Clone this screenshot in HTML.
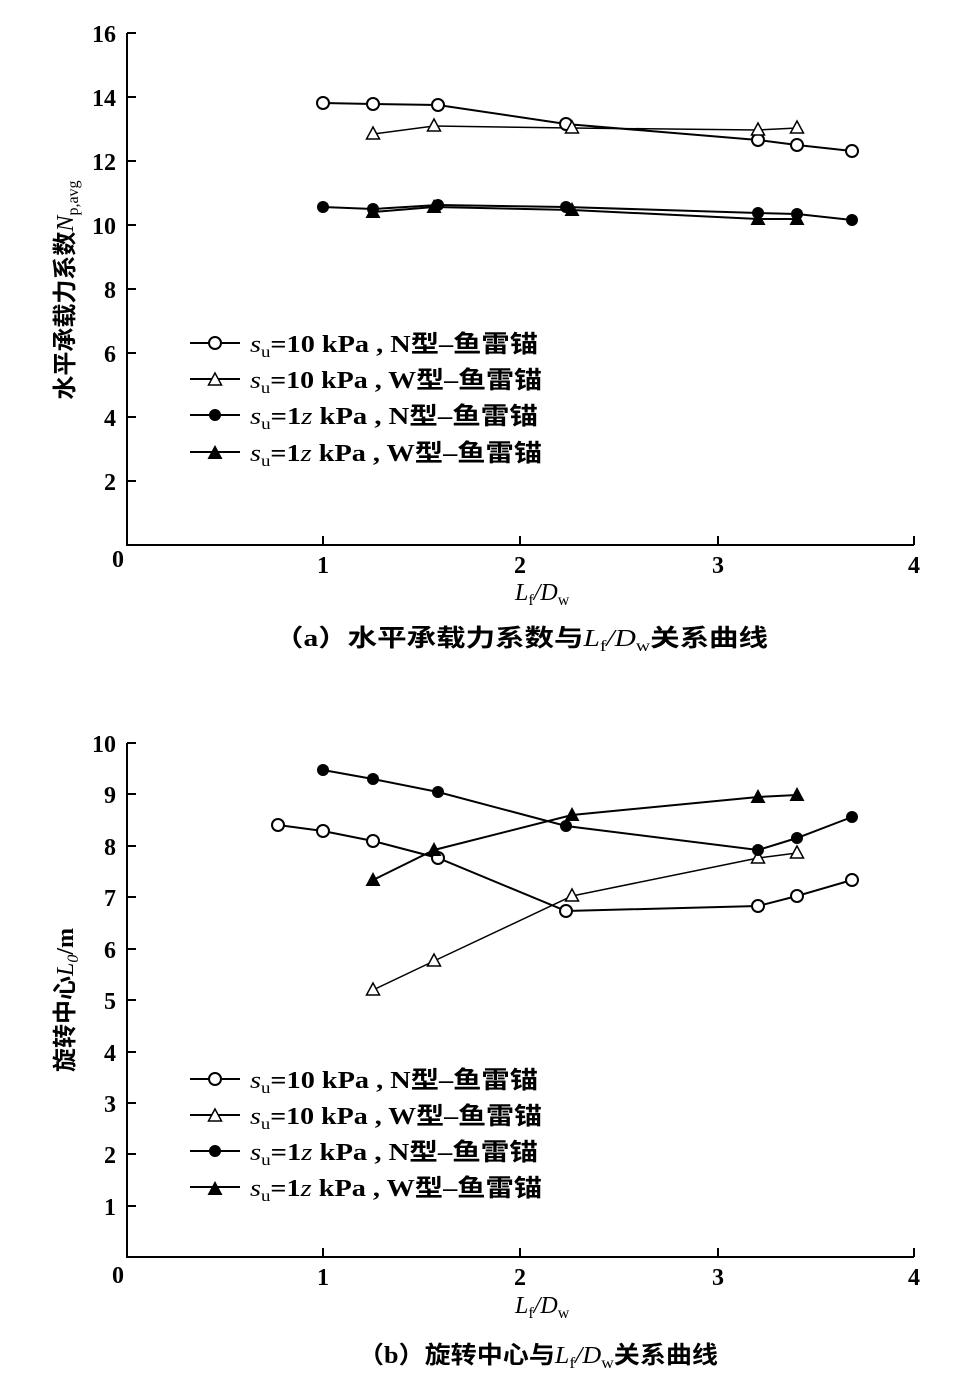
<!DOCTYPE html>
<html><head><meta charset="utf-8"><style>
body{margin:0;background:#fff;}
text{font-family:"Liberation Serif","Noto Sans CJK SC",serif;fill:#000;font-weight:bold;}
.n{font-weight:normal;}
.i{font-style:italic;font-weight:normal;}
</style></head><body>
<svg width="963" height="1394" viewBox="0 0 963 1394" xmlns="http://www.w3.org/2000/svg">
<g stroke="#000" stroke-width="2" fill="none">
<path d="M127 33 V545 H914"/>
<path d="M127 33h9M127 97h9M127 161h9M127 225h9M127 289h9M127 353h9M127 417h9M127 481h9"/>
<path d="M323 545v-9M520 545v-9M718 545v-9M914 545v-9"/>
<path d="M127 743 V1257 H914"/>
<path d="M127 743h9M127 794h9M127 846h9M127 897h9M127 949h9M127 1000h9M127 1052h9M127 1103h9M127 1154h9M127 1206h9"/>
<path d="M323 1257v-9M520 1257v-9M718 1257v-9M914 1257v-9"/>
</g>
<g font-size="24" text-anchor="end">
<text x="116" y="42">16</text><text x="116" y="106">14</text><text x="116" y="170">12</text><text x="116" y="234">10</text>
<text x="116" y="298">8</text><text x="116" y="362">6</text><text x="116" y="426">4</text><text x="116" y="490">2</text>
<text x="116" y="752">10</text><text x="116" y="803">9</text><text x="116" y="855">8</text><text x="116" y="906">7</text>
<text x="116" y="958">6</text><text x="116" y="1009">5</text><text x="116" y="1061">4</text><text x="116" y="1112">3</text>
<text x="116" y="1163">2</text><text x="116" y="1215">1</text>
</g>
<g font-size="24" text-anchor="middle">
<text x="118" y="567">0</text><text x="323" y="573">1</text><text x="520" y="573">2</text><text x="718" y="573">3</text><text x="914" y="573">4</text>
<text x="118" y="1283">0</text><text x="323" y="1285">1</text><text x="520" y="1285">2</text><text x="718" y="1285">3</text><text x="914" y="1285">4</text>
</g>
<g font-size="24">
<text x="515" y="600" class="n"><tspan class="i">L</tspan><tspan font-size="16" dy="5">f</tspan><tspan dy="-5" class="i">/D</tspan><tspan font-size="16" dy="5">w</tspan></text>
<text x="515" y="1313" class="n"><tspan class="i">L</tspan><tspan font-size="16" dy="5">f</tspan><tspan dy="-5" class="i">/D</tspan><tspan font-size="16" dy="5">w</tspan></text>
<text x="274" y="646" textLength="494" lengthAdjust="spacingAndGlyphs">（a）水平承载力系数与<tspan class="i">L</tspan><tspan font-size="16" dy="5" class="n">f</tspan><tspan dy="-5" class="i">/D</tspan><tspan font-size="16" dy="5" class="n">w</tspan><tspan dy="-5">关系曲线</tspan></text>
<text x="358" y="1363" textLength="360" lengthAdjust="spacingAndGlyphs">（b）旋转中心与<tspan class="i">L</tspan><tspan font-size="16" dy="5" class="n">f</tspan><tspan dy="-5" class="i">/D</tspan><tspan font-size="16" dy="5" class="n">w</tspan><tspan dy="-5">关系曲线</tspan></text>
</g>
<text font-size="24" text-anchor="middle" transform="translate(73 290) rotate(-90)">水平承载力系数<tspan class="i">N</tspan><tspan font-size="16" dy="5" class="n">p,avg</tspan></text>
<text font-size="24" text-anchor="middle" transform="translate(73 1000) rotate(-90)">旋转中心<tspan class="i">L</tspan><tspan font-size="16" dy="5" class="i">0</tspan><tspan dy="-5">/m</tspan></text>
<defs>
<circle id="oc" r="6" fill="#fff" stroke="#000" stroke-width="2"/>
<circle id="fc" r="6" fill="#000"/>
<path id="ot" d="M0 -7 L6.5 5 L-6.5 5 Z" fill="#fff" stroke="#000" stroke-width="1.5"/>
<path id="ft" d="M0 -8 L7.5 6 L-7.5 6 Z" fill="#000"/>
</defs>
<g stroke="#000" stroke-width="2" fill="none">
<polyline points="323,103 373,104 438,105 566,124 758,140 797,145 852,151"/>
<polyline points="373,134 434,126 572,128 758,130 797,128" stroke-width="1.5"/>
<polyline points="323,207 373,209 438,205 566,207 758,213 797,214 852,220"/>
<polyline points="373,212 434,207 572,210 758,219 797,219"/>
<polyline points="278,825 323,831 373,841 438,858 566,911 758,906 797,896 852,880"/>
<polyline points="373,990 434,961 572,896 758,858 797,853" stroke-width="1.5"/>
<polyline points="323,770 373,779 438,792 566,826 758,850 797,838 852,817"/>
<polyline points="373,880 434,850 572,815 758,797 797,795"/>
<path d="M190 343h50M190 379h50M190 415h50M190 452h50M190 1079h50M190 1115h50M190 1151h50M190 1187h50"/>
</g>
<g>
<use href="#oc" x="323" y="103"/><use href="#oc" x="373" y="104"/><use href="#oc" x="438" y="105"/><use href="#oc" x="566" y="124"/><use href="#oc" x="758" y="140"/><use href="#oc" x="797" y="145"/><use href="#oc" x="852" y="151"/>
<use href="#ot" x="373" y="134"/><use href="#ot" x="434" y="126"/><use href="#ot" x="572" y="128"/><use href="#ot" x="758" y="130"/><use href="#ot" x="797" y="128"/>
<use href="#fc" x="323" y="207"/><use href="#fc" x="373" y="209"/><use href="#fc" x="438" y="205"/><use href="#fc" x="566" y="207"/><use href="#fc" x="758" y="213"/><use href="#fc" x="797" y="214"/><use href="#fc" x="852" y="220"/>
<use href="#ft" x="373" y="212"/><use href="#ft" x="434" y="207"/><use href="#ft" x="572" y="210"/><use href="#ft" x="758" y="219"/><use href="#ft" x="797" y="219"/>
<use href="#oc" x="278" y="825"/><use href="#oc" x="323" y="831"/><use href="#oc" x="373" y="841"/><use href="#oc" x="438" y="858"/><use href="#oc" x="566" y="911"/><use href="#oc" x="758" y="906"/><use href="#oc" x="797" y="896"/><use href="#oc" x="852" y="880"/>
<use href="#ot" x="373" y="990"/><use href="#ot" x="434" y="961"/><use href="#ot" x="572" y="896"/><use href="#ot" x="758" y="858"/><use href="#ot" x="797" y="853"/>
<use href="#fc" x="323" y="770"/><use href="#fc" x="373" y="779"/><use href="#fc" x="438" y="792"/><use href="#fc" x="566" y="826"/><use href="#fc" x="758" y="850"/><use href="#fc" x="797" y="838"/><use href="#fc" x="852" y="817"/>
<use href="#ft" x="373" y="880"/><use href="#ft" x="434" y="850"/><use href="#ft" x="572" y="815"/><use href="#ft" x="758" y="797"/><use href="#ft" x="797" y="795"/>
<use href="#oc" x="215" y="343"/><use href="#ot" x="215" y="380"/><use href="#fc" x="215" y="415"/><use href="#ft" x="215" y="453"/>
<use href="#oc" x="215" y="1079"/><use href="#ot" x="215" y="1116"/><use href="#fc" x="215" y="1151"/><use href="#ft" x="215" y="1189"/>
</g>
<g font-size="24">
<text x="250" y="352" textLength="288" lengthAdjust="spacingAndGlyphs"><tspan class="i">s</tspan><tspan font-size="16" dy="5" class="n">u</tspan><tspan dy="-5">=10 kPa , N型–鱼雷锚</tspan></text>
<text x="250" y="388" textLength="292" lengthAdjust="spacingAndGlyphs"><tspan class="i">s</tspan><tspan font-size="16" dy="5" class="n">u</tspan><tspan dy="-5">=10 kPa , W型–鱼雷锚</tspan></text>
<text x="250" y="424" textLength="288" lengthAdjust="spacingAndGlyphs"><tspan class="i">s</tspan><tspan font-size="16" dy="5" class="n">u</tspan><tspan dy="-5">=1</tspan><tspan class="i">z</tspan><tspan> kPa , N型–鱼雷锚</tspan></text>
<text x="250" y="461" textLength="292" lengthAdjust="spacingAndGlyphs"><tspan class="i">s</tspan><tspan font-size="16" dy="5" class="n">u</tspan><tspan dy="-5">=1</tspan><tspan class="i">z</tspan><tspan> kPa , W型–鱼雷锚</tspan></text>
<text x="250" y="1088" textLength="288" lengthAdjust="spacingAndGlyphs"><tspan class="i">s</tspan><tspan font-size="16" dy="5" class="n">u</tspan><tspan dy="-5">=10 kPa , N型–鱼雷锚</tspan></text>
<text x="250" y="1124" textLength="292" lengthAdjust="spacingAndGlyphs"><tspan class="i">s</tspan><tspan font-size="16" dy="5" class="n">u</tspan><tspan dy="-5">=10 kPa , W型–鱼雷锚</tspan></text>
<text x="250" y="1160" textLength="288" lengthAdjust="spacingAndGlyphs"><tspan class="i">s</tspan><tspan font-size="16" dy="5" class="n">u</tspan><tspan dy="-5">=1</tspan><tspan class="i">z</tspan><tspan> kPa , N型–鱼雷锚</tspan></text>
<text x="250" y="1196" textLength="292" lengthAdjust="spacingAndGlyphs"><tspan class="i">s</tspan><tspan font-size="16" dy="5" class="n">u</tspan><tspan dy="-5">=1</tspan><tspan class="i">z</tspan><tspan> kPa , W型–鱼雷锚</tspan></text>
</g>
</svg>
</body></html>
